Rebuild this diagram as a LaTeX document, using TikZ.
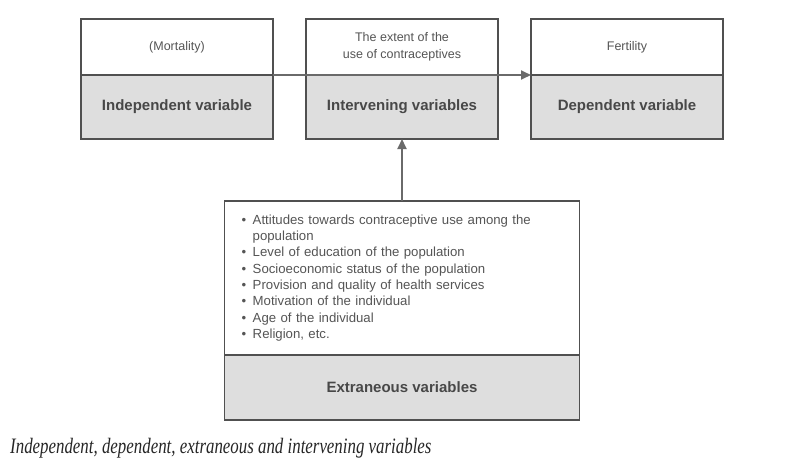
\documentclass[tikz,border=0pt]{standalone}
\usepackage{fontspec}
\setmainfont{Liberation Serif}
\setsansfont{Liberation Sans}
\usetikzlibrary{positioning, arrows.meta}
\definecolor{boxline}{HTML}{505050}
\definecolor{boxfill}{HTML}{DEDEDE}
\definecolor{txtgrey}{HTML}{555555}
\definecolor{arrowgrey}{HTML}{6A6A6A}
\newcommand{\bul}{\textbullet\enspace}
\newcommand{\nobul}{\phantom{\textbullet\enspace}}
\begin{document}
\begin{tikzpicture}[x=1pt, y=-1pt,
		>={Triangle[length=10pt,width=9pt]}, %Pfeilspitzen
		headbox/.style={draw=boxline, line width=1.3pt, fill=white, outer sep=0pt,
			minimum width=192pt, minimum height=56pt, inner sep=2pt, align=center, text=txtgrey,
			font=\sffamily\fontsize{12.5}{17}\selectfont},
		varbox/.style={draw=boxline, line width=1.3pt, fill=boxfill, outer sep=0pt,
			minimum width=192pt, minimum height=64pt, inner sep=2pt, text=txtgrey!85!black,
			font=\sffamily\bfseries\fontsize{15}{17}\selectfont},
		link/.style={->, draw=arrowgrey, line width=1.8pt}]
	\useasboundingbox (0,0) rectangle (792,472);
	% obere Reihe
	\node[headbox, anchor=north west] (indephead) at (81,19) {(Mortality)};
	\node[varbox, below=0pt of indephead] (indepvar) {Independent variable};
	\node[headbox, right=33pt of indephead] (interhead) {The extent of the\\use of contraceptives};
	\node[varbox, below=0pt of interhead] (intervar) {Intervening variables};
	\node[headbox, right=33pt of interhead] (dephead) {Fertility};
	\node[varbox, below=0pt of dephead] (depvar) {Dependent variable};
	% Stoerfaktoren
	\node[headbox, below=62pt of intervar, minimum width=355pt, minimum height=154pt,
		text width=321pt, inner xsep=17pt, align=left,
		font=\sffamily\fontsize{13.2}{16.3}\selectfont] (exthead) {%
		\bul Attitudes towards contraceptive use among the\\
		\nobul population\\
		\bul Level of education of the population\\
		\bul Socioeconomic status of the population\\
		\bul Provision and quality of health services\\
		\bul Motivation of the individual\\
		\bul Age of the individual\\
		\bul Religion, etc.};
	\node[varbox, below=0pt of exthead, minimum width=355pt, minimum height=65pt] (extvar) {Extraneous variables};
	% Pfeile
	\draw[link] (indephead.south east) -- (dephead.south west);
	\draw[link] (exthead.north) -- (intervar.south);
	% Bildunterschrift
	\node[anchor=base west, inner sep=0pt, font=\itshape\fontsize{22}{24}\selectfont, text=black!85] (caption) at (10,453)
		{\scalebox{0.767}[1]{Independent, dependent, extraneous and intervening variables}};
\end{tikzpicture}
\end{document}
